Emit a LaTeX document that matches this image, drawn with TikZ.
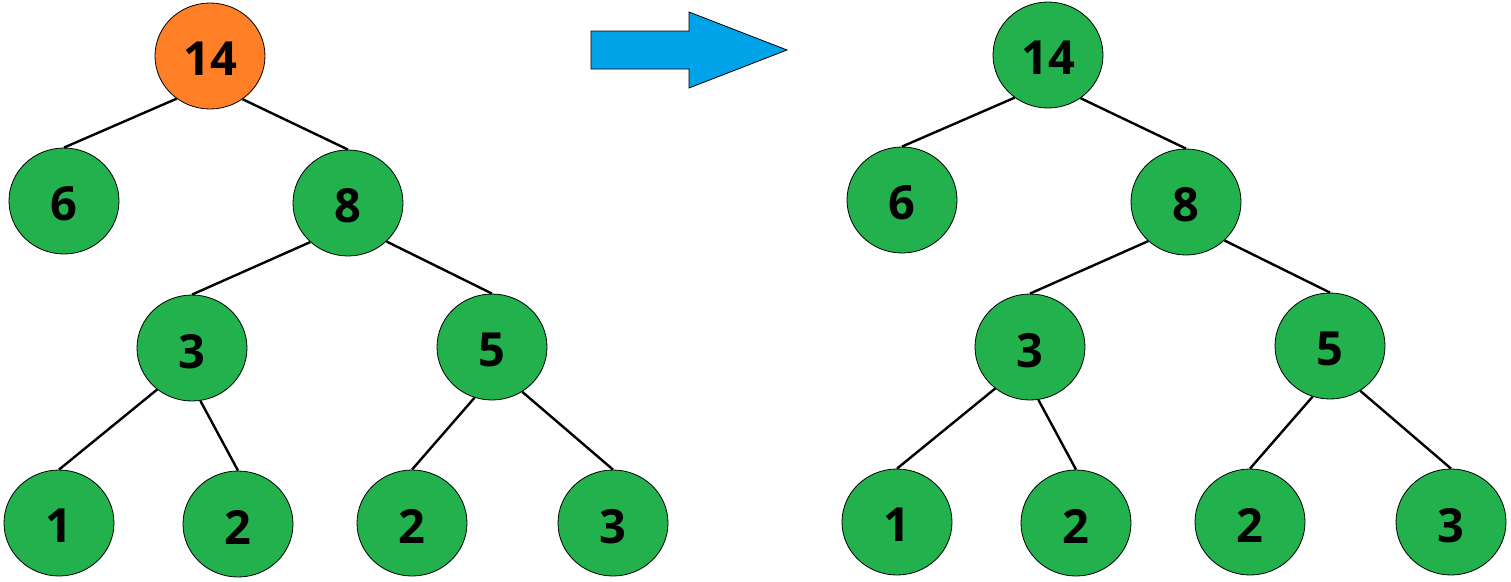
\documentclass[tikz,border=0pt]{standalone}
\usepackage{fontspec}
\setmainfont{Open Sans}
\usetikzlibrary{shapes.geometric}
\definecolor{nodegreen}{RGB}{34,177,76}
\definecolor{nodeorange}{RGB}{255,127,39}
\definecolor{arrowblue}{RGB}{0,162,232}
\newcommand{\dg}[1]{\raisebox{-3pt}[\height][0pt]{#1}}
\tikzset{
  tnode/.style={ellipse, draw=black, line width=0.8pt, fill=nodegreen,
    minimum width=110pt, minimum height=106pt, inner sep=0pt,
    font=\fontsize{47}{50}\selectfont\bfseries, text=black},
  hot/.style={fill=nodeorange},
  edge/.style={draw=black, line width=2.4pt}
}
\begin{document}
\begin{tikzpicture}[x=1pt,y=-1pt]
\useasboundingbox (0,0) rectangle (1511,581);
% left tree
\node[tnode,hot] (La) at (210,56) {\dg{14}};
\node[tnode] (Lb) at (64,201) {\dg{6}};
\node[tnode] (Lc) at (348,203) {\dg{8}};
\node[tnode] (Ld) at (192,348) {\dg{3}};
\node[tnode] (Le) at (492,347) {\dg{5}};
\node[tnode] (Lf) at (59,523) {\dg{1}};
\node[tnode] (Lg) at (238,524) {\dg{2}};
\node[tnode] (Lh) at (412,523) {\dg{2}};
\node[tnode] (Li) at (613,523) {\dg{3}};
\draw[edge] (La.232) -- (Lb.north);
\draw[edge] (La.307) -- (Lc.north);
\draw[edge] (Lc.226) -- (Ld.north);
\draw[edge] (Lc.315) -- (Le.north);
\draw[edge] (Ld.230) -- (Lf.north);
\draw[edge] (Ld.279) -- (Lg.north);
\draw[edge] (Le.251) -- (Lh.north);
\draw[edge] (Le.304) -- (Li.north);
% arrow
\coordinate (A1) at (591,31);
\coordinate (A2) at (689,31);
\coordinate (A3) at (689,12);
\coordinate (A4) at (787,50);
\coordinate (A5) at (689,88);
\coordinate (A6) at (689,69);
\coordinate (A7) at (591,69);
\draw[fill=arrowblue, draw=black, line width=0.8pt] (A1) -- (A2) -- (A3) -- (A4) -- (A5) -- (A6) -- (A7) -- cycle;
% right tree
\node[tnode] (Ra) at (1048,55) {\dg{14}};
\node[tnode] (Rb) at (902,200) {\dg{6}};
\node[tnode] (Rc) at (1186,202) {\dg{8}};
\node[tnode] (Rd) at (1030,347) {\dg{3}};
\node[tnode] (Re) at (1330,346) {\dg{5}};
\node[tnode] (Rf) at (897,522) {\dg{1}};
\node[tnode] (Rg) at (1076,523) {\dg{2}};
\node[tnode] (Rh) at (1250,522) {\dg{2}};
\node[tnode] (Ri) at (1451,522) {\dg{3}};
\draw[edge] (Ra.232) -- (Rb.north);
\draw[edge] (Ra.307) -- (Rc.north);
\draw[edge] (Rc.226) -- (Rd.north);
\draw[edge] (Rc.315) -- (Re.north);
\draw[edge] (Rd.230) -- (Rf.north);
\draw[edge] (Rd.279) -- (Rg.north);
\draw[edge] (Re.251) -- (Rh.north);
\draw[edge] (Re.304) -- (Ri.north);
\end{tikzpicture}
\end{document}
